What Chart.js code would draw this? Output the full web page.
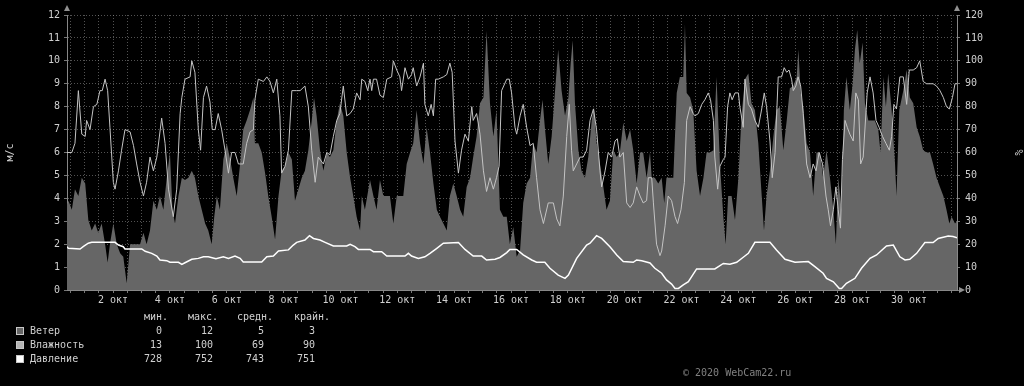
<!DOCTYPE html>
<html>
<head>
<meta charset="utf-8">
<script src="https://cdn.jsdelivr.net/npm/chart.js@4"></script>
<style>
html, body { margin: 0; padding: 0; background: #000; }
#wrap { position: relative; width: 1024px; height: 386px; overflow: hidden; }
canvas { position: absolute; left: 0; top: 0; }
.t { position: absolute; font: 10px "DejaVu Sans Mono", monospace; color: #d0d0d0; white-space: pre; line-height: 12px; }
.r { text-align: right; width: 80px; }
.sq { position: absolute; width: 6px; height: 6px; border: 1px solid #c8c8c8; }
</style>
</head>
<body>
<div id="wrap">
  <canvas id="grafico" width="1024" height="386"></canvas>
</div>
<script>
// время в сутках от начала октября (метка "N окт" стоит на значении N)
const windDays = [0.31,0.43,0.55,0.66,0.78,0.90,1.02,1.13,1.25,1.37,1.48,1.60,1.72,1.81,1.89,2.01,2.13,2.25,2.36,2.48,2.60,2.77,2.95,3.07,3.18,3.30,3.42,3.54,3.65,3.77,3.89,4.00,4.09,4.18,4.30,4.42,4.53,4.65,4.77,4.88,5.00,5.12,5.24,5.35,5.47,5.56,5.65,5.76,5.88,6.00,6.12,6.23,6.35,6.47,6.58,6.70,6.82,6.94,6.99,7.11,7.23,7.35,7.46,7.58,7.70,7.82,7.93,8.05,8.17,8.29,8.40,8.52,8.64,8.75,8.87,8.99,9.07,9.16,9.28,9.40,9.52,9.63,9.75,9.87,9.98,10.10,10.22,10.34,10.45,10.57,10.69,10.75,10.86,11.04,11.16,11.27,11.39,11.51,11.74,11.86,11.98,12.21,12.33,12.45,12.56,12.68,12.80,12.92,13.03,13.15,13.27,13.39,13.50,13.62,13.74,13.85,13.97,14.09,14.21,14.32,14.44,14.56,14.67,14.79,14.91,15.03,15.14,15.26,15.38,15.49,15.61,15.73,15.85,15.96,16.08,16.20,16.32,16.43,16.55,16.67,16.78,16.90,17.02,17.11,17.19,17.31,17.43,17.55,17.66,17.78,17.90,18.02,18.10,18.17,18.25,18.37,18.48,18.60,18.72,18.84,18.92,19.01,19.13,19.25,19.36,19.48,19.60,19.72,19.83,19.95,20.07,20.19,20.30,20.42,20.54,20.65,20.77,20.89,20.95,21.06,21.18,21.30,21.39,21.47,21.71,21.83,21.94,22.06,22.12,22.18,22.30,22.41,22.53,22.65,22.77,22.88,23.00,23.12,23.23,23.35,23.47,23.55,23.64,23.76,23.88,24.00,24.11,24.23,24.35,24.46,24.58,24.70,24.82,24.90,24.99,25.11,25.23,25.34,25.46,25.58,25.70,25.81,25.93,26.05,26.11,26.19,26.28,26.40,26.52,26.63,26.75,26.87,26.98,27.10,27.22,27.34,27.43,27.51,27.63,27.71,27.80,27.92,28.02,28.10,28.18,28.27,28.37,28.45,28.57,28.80,28.92,29.00,29.10,29.19,29.27,29.39,29.51,29.56,29.66,29.80,29.92,30.03,30.15,30.27,30.38,30.50,30.62,30.74,30.85,30.97,31.09,31.21,31.32,31.42,31.50,31.62,31.69];
const windSpeed = [3.5,3.9,3.5,4.4,4.1,4.9,4.65,3.05,2.6,2.9,2.5,2.9,2.0,1.2,2.0,2.9,2.0,1.6,1.45,0.3,2.0,2.0,2.0,2.5,2.0,2.6,3.9,3.5,4.1,3.5,4.9,6.0,3.5,2.9,4.1,4.9,4.8,4.9,5.2,4.9,4.1,3.5,2.9,2.6,2.0,3.2,4.1,3.5,5.7,6.4,5.7,4.9,4.1,5.5,7.0,7.4,7.85,8.4,6.4,6.4,6.0,5.1,4.1,3.2,2.2,4.1,5.2,5.4,6.0,5.7,3.9,4.4,4.9,5.2,6.1,7.4,8.4,7.6,6.1,5.2,6.0,5.8,6.1,7.4,8.15,7.6,6.0,4.9,4.1,3.2,2.6,4.1,3.5,4.8,4.1,3.5,4.8,4.1,4.1,2.9,4.1,4.1,5.5,6.0,6.4,7.85,6.4,5.5,7.1,6.0,4.65,3.5,3.2,2.9,2.6,4.1,4.65,4.1,3.5,3.2,4.5,4.9,5.8,6.7,8.15,8.4,11.3,8.15,6.7,7.85,3.5,3.2,3.2,2.0,2.75,1.45,1.75,3.8,4.65,4.9,6.4,6.0,7.4,8.3,7.1,5.5,6.7,8.7,10.5,8.7,7.6,8.4,9.9,10.9,8.15,6.1,5.2,4.9,5.8,7.4,8.0,6.4,5.5,4.5,3.5,3.9,6.1,5.8,6.0,7.3,6.5,7.0,6.1,4.65,6.0,6.0,4.9,6.0,4.9,4.9,4.65,4.9,3.8,4.9,4.9,8.6,9.3,9.3,11.6,8.6,8.4,7.85,5.2,4.1,4.9,6.0,6.0,6.1,9.3,5.5,3.2,2.0,4.1,4.1,3.05,4.9,7.6,9.2,9.45,8.15,7.85,6.4,4.1,2.6,4.1,5.2,6.7,7.85,8.0,6.1,7.4,8.8,8.9,9.3,10.5,8.6,8.0,6.4,6.0,4.1,6.0,6.0,4.9,6.1,4.9,3.5,2.0,4.9,3.5,7.85,9.3,7.85,9.0,10.5,11.35,9.9,10.8,8.15,7.4,7.4,7.0,6.0,9.3,8.0,9.45,7.85,5.5,4.1,7.85,8.7,9.6,8.4,8.15,7.1,6.7,6.1,6.0,6.0,5.5,4.9,4.5,4.1,3.5,2.9,3.2,2.9,3.0];

const humDays = [0.31,0.55,0.66,0.78,0.90,1.02,1.07,1.19,1.31,1.43,1.54,1.62,1.72,1.81,1.89,2.01,2.07,2.19,2.30,2.42,2.60,2.72,2.83,2.95,3.07,3.18,3.30,3.42,3.54,3.71,3.83,3.95,4.12,4.24,4.36,4.42,4.53,4.71,4.77,4.88,5.00,5.08,5.18,5.29,5.41,5.49,5.59,5.70,5.82,5.94,6.06,6.17,6.29,6.41,6.58,6.70,6.82,6.94,6.99,7.11,7.29,7.41,7.52,7.64,7.76,7.87,7.93,8.05,8.17,8.29,8.46,8.58,8.75,8.87,8.99,9.11,9.22,9.40,9.52,9.63,9.75,9.87,9.98,10.10,10.22,10.34,10.45,10.57,10.69,10.75,10.86,10.96,11.04,11.10,11.16,11.27,11.39,11.51,11.63,11.80,11.86,11.98,12.09,12.15,12.27,12.39,12.50,12.56,12.68,12.80,12.92,12.97,13.09,13.19,13.27,13.35,13.44,13.62,13.74,13.85,13.93,14.03,14.15,14.26,14.38,14.50,14.62,14.67,14.79,14.91,15.03,15.14,15.26,15.38,15.49,15.58,15.67,15.85,15.94,16.02,16.14,16.20,16.32,16.43,16.55,16.67,16.78,16.90,17.02,17.14,17.31,17.49,17.61,17.72,17.84,17.96,18.05,18.13,18.19,18.31,18.43,18.54,18.66,18.78,18.90,19.01,19.13,19.19,19.31,19.42,19.54,19.66,19.74,19.83,19.95,20.07,20.19,20.30,20.42,20.54,20.65,20.77,20.83,20.95,21.01,21.12,21.24,21.30,21.42,21.53,21.65,21.77,21.86,21.98,22.10,22.18,22.30,22.41,22.47,22.59,22.71,22.82,22.94,23.02,23.12,23.17,23.27,23.35,23.47,23.53,23.62,23.70,23.78,23.88,24.00,24.05,24.17,24.23,24.35,24.46,24.58,24.70,24.82,24.91,24.99,25.11,25.19,25.29,25.40,25.52,25.61,25.70,25.78,25.87,25.93,26.02,26.10,26.19,26.28,26.40,26.52,26.63,26.73,26.84,26.96,27.08,27.16,27.24,27.34,27.43,27.51,27.59,27.66,27.75,27.83,27.92,28.04,28.13,28.22,28.30,28.39,28.53,28.63,28.74,28.84,28.95,29.07,29.19,29.31,29.39,29.47,29.56,29.68,29.80,29.92,30.01,30.15,30.27,30.38,30.50,30.62,30.85,30.97,31.09,31.21,31.32,31.42,31.53,31.62,31.69];
const humidity = [60,60,64,87,68,67,74,70,80,81,87,87,92,87,71,47,44,52,61,70,69,63,55,47,41,47,58,52,58,75,64,44,32,44,77,84,92,93,100,95,70,61,84,89,82,70,70,77,70,61,51,60,60,55,55,64,69,70,83,92,91,93,91,86,92,76,51,54,61,87,87,87,89,80,61,47,58,55,60,59,67,74,77,89,76,77,79,86,83,92,91,87,92,87,92,92,85,84,92,93,100,96,93,87,97,92,94,97,89,93,99,81,76,81,76,92,92,93,94,99,95,65,51,61,68,65,80,74,77,68,52,43,49,44,49,54,87,92,92,86,71,68,76,81,71,63,64,49,35,29,38,38,31,28,41,67,81,61,52,55,58,58,61,74,79,70,52,45,52,60,58,65,66,58,60,38,36,38,45,41,38,39,49,49,38,20,15,17,28,41,39,32,29,35,47,74,80,77,76,77,81,83,86,83,74,58,44,54,57,58,80,86,83,86,86,80,71,92,81,79,74,71,79,86,80,65,49,60,93,93,97,95,96,92,87,89,93,89,77,55,49,55,52,60,55,41,35,28,35,45,35,27,57,74,71,68,65,86,83,55,58,86,93,86,74,71,67,64,61,67,81,79,93,93,81,96,96,97,100,91,90,90,89,87,84,80,79,84,90,90];

const presDays = [0.31,0.43,0.84,0.96,1.13,1.25,2.07,2.19,2.36,2.42,3.01,3.13,3.36,3.54,3.65,3.89,4.00,4.30,4.42,4.53,4.77,5.00,5.18,5.35,5.62,5.88,6.06,6.29,6.47,6.58,7.23,7.41,7.64,7.82,8.17,8.34,8.46,8.75,8.91,9.05,9.28,9.46,9.75,10.22,10.34,10.51,10.63,11.04,11.16,11.45,11.63,12.27,12.39,12.50,12.74,12.97,13.15,13.39,13.62,14.15,14.38,14.67,14.97,15.14,15.44,15.61,15.85,15.96,16.20,16.43,16.73,16.90,17.19,17.37,17.66,17.90,18.02,18.31,18.66,18.78,19.01,19.19,19.48,19.72,19.95,20.30,20.42,20.60,20.89,21.06,21.30,21.47,21.65,21.77,21.89,22.06,22.24,22.53,23.17,23.47,23.70,23.94,24.17,24.35,24.58,25.11,25.34,25.64,25.99,26.46,26.69,26.98,27.10,27.34,27.55,27.63,27.80,28.10,28.33,28.63,28.86,29.21,29.45,29.68,29.86,30.03,30.27,30.56,30.85,31.03,31.38,31.55,31.69];
const pressure = [747.6,746.2,745.9,747.0,748.4,748.8,748.8,747.6,746.9,745.9,745.9,744.9,744.0,742.8,741.1,740.8,740.1,740.1,739.2,739.9,741.4,741.8,742.5,742.5,741.6,742.5,741.8,742.8,741.8,740.2,740.2,742.5,742.8,745.0,745.5,747.6,748.8,749.8,751.7,750.5,749.8,748.8,747.2,747.2,747.9,746.9,745.7,745.7,744.7,744.7,742.8,742.8,744.0,742.8,741.8,742.5,744.0,746.2,748.4,748.7,745.7,742.8,742.8,741.1,741.4,742.2,744.3,745.7,745.7,743.3,741.1,740.1,740.1,737.5,734.5,733.1,734.5,741.8,747.6,748.4,751.7,750.5,746.9,743.3,740.4,740.1,741.1,740.8,739.8,737.5,735.3,732.4,730.6,728.7,728.7,730.2,731.6,737.2,737.2,739.6,739.2,740.1,742.3,744.0,748.8,748.8,745.5,741.4,740.1,740.4,738.2,735.3,733.1,731.6,728.7,728.7,730.9,733.1,737.5,741.8,743.3,747.2,747.6,742.5,741.1,741.4,744.0,748.7,748.7,750.5,751.6,751.3,750.8];

const seriesNames = ['Ветер', 'Влажность', 'Давление'];
const seriesColors = ['#666666', '#b4b4b4', '#ffffff'];
const statHeaders = ['мин.', 'макс.', 'средн.', 'крайн.'];
const statMin = [0, 13, 728];
const statMax = [12, 100, 752];
const statAvg = [5, 69, 743];
const statLast = [3, 90, 751];

const fonte = { family: '"DejaVu Sans Mono", monospace', size: 10 };
const corTexto = '#d0d0d0';
const corGrade = 'rgba(150,150,150,0.55)';

function pontos(dias, valores) {
  return dias.map((d, i) => ({ x: d, y: valores[i] }));
}

// setas nos eixos, como no rrdtool
const setas = {
  id: 'setas',
  afterDraw(chart) {
    const { ctx, chartArea: a } = chart;
    ctx.save();
    ctx.fillStyle = '#909090';
    [a.left, a.right].forEach(x => {
      ctx.beginPath();
      ctx.moveTo(x - 3, a.top - 4);
      ctx.lineTo(x + 3, a.top - 4);
      ctx.lineTo(x, a.top - 10);
      ctx.fill();
    });
    ctx.beginPath();
    ctx.moveTo(a.right + 2, a.bottom - 3);
    ctx.lineTo(a.right + 2, a.bottom + 3);
    ctx.lineTo(a.right + 8, a.bottom);
    ctx.fill();
    ctx.restore();
  }
};

new Chart(document.getElementById('grafico'), {
  type: 'line',
  data: {
    datasets: [{
      label: seriesNames[2],
      data: pontos(presDays, pressure),
      yAxisID: 'yP',
      borderColor: seriesColors[2],
      borderWidth: 1.5,
      pointRadius: 0,
      order: 1,
    }, {
      label: seriesNames[1],
      data: pontos(humDays, humidity),
      yAxisID: 'y2',
      borderColor: '#c4c4c4',
      borderWidth: 1,
      pointRadius: 0,
      order: 2,
    }, {
      label: seriesNames[0],
      data: pontos(windDays, windSpeed),
      yAxisID: 'y',
      borderWidth: 0,
      backgroundColor: seriesColors[0],
      fill: 'origin',
      pointRadius: 0,
      order: 3,
    }],
  },
  options: {
    responsive: false,
    animation: false,
    devicePixelRatio: 1,
    layout: { padding: { top: 15, bottom: 76, left: 0, right: 0 } },
    plugins: { legend: { display: false }, tooltip: { enabled: false } },
    scales: {
      x: {
        type: 'linear',
        min: 0.38,
        max: 31.69,
        z: 1,
        afterBuildTicks: scale => {
          const t = [];
          for (let v = 0.5; v <= 31.5; v += 0.5) t.push({ value: v });
          scale.ticks = t;
        },
        afterFit: scale => { scale.height = 20; },
        ticks: {
          autoSkip: false,
          maxRotation: 0,
          minRotation: 0,
          padding: 1,
          color: corTexto,
          font: fonte,
          callback: v => (v % 2 === 0 ? v + ' окт' : ''),
        },
        grid: { color: corGrade, tickLength: 3, tickColor: '#777' },
        border: { color: '#888', dash: [1, 2] },
      },
      y: {
        position: 'left',
        min: 0,
        max: 12,
        z: 1,
        afterFit: scale => { scale.width = 67; },
        ticks: {
          stepSize: 0.5,
          padding: 4,
          color: corTexto,
          font: fonte,
          callback: v => (Number.isInteger(v) ? v : ''),
        },
        grid: { color: corGrade, tickLength: 3, tickColor: '#777' },
        border: { color: '#888', dash: [1, 2] },
        title: { display: true, text: 'м/с', color: corTexto, font: fonte, padding: { top: 4, bottom: 0 } },
      },
      y2: {
        position: 'right',
        min: 0,
        max: 120,
        afterFit: scale => { scale.width = 67; },
        ticks: { stepSize: 10, padding: 5, color: corTexto, font: fonte },
        grid: { drawOnChartArea: false, tickLength: 3, tickColor: '#777' },
        border: { color: '#888' },
        title: { display: true, text: '%', color: corTexto, font: fonte, padding: { top: 0, bottom: 0 } },
      },
      yP: { display: false, min: 728, max: 848 },
    },
  },
  plugins: [setas],
});

// legenda em texto, abaixo do gráfico
const wrap = document.getElementById('wrap');
function texto(str, left, top, classe) {
  const el = document.createElement('div');
  el.className = 't' + (classe ? ' ' + classe : '');
  el.textContent = str;
  el.style.left = left + 'px';
  el.style.top = top + 'px';
  wrap.appendChild(el);
  return el;
}
const colunasHeader = [168, 218, 273, 330];
const colunasValor = [162, 213, 264, 315];
statHeaders.forEach((h, i) => texto(h, colunasHeader[i] - 80, 311, 'r'));
seriesNames.forEach((nome, i) => {
  const top = 325 + i * 14;
  const sq = document.createElement('div');
  sq.className = 'sq';
  sq.style.left = '16px';
  sq.style.top = (top + 2) + 'px';
  sq.style.background = seriesColors[i];
  wrap.appendChild(sq);
  texto(nome, 30, top);
  [statMin[i], statMax[i], statAvg[i], statLast[i]].forEach((v, j) => texto(String(v), colunasValor[j] - 80, top, 'r'));
});
const copy = texto('© 2020 WebCam22.ru', 683, 367);
copy.style.color = '#808080';
</script>
</body>
</html>
